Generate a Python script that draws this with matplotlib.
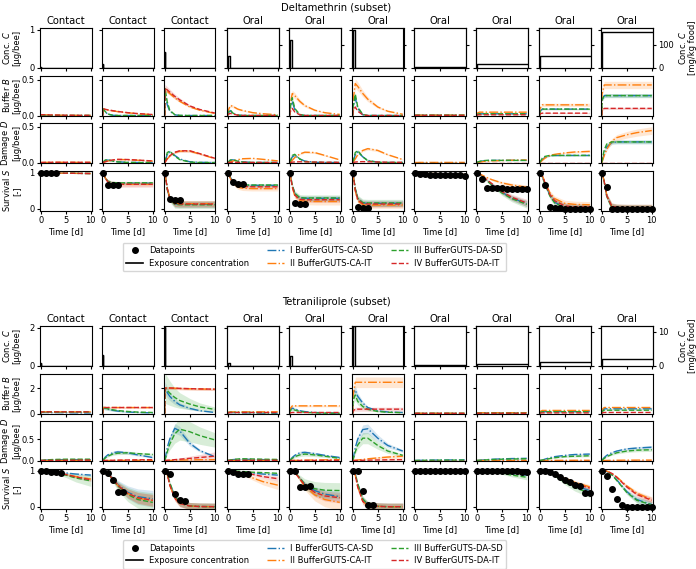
import numpy as np
import matplotlib.pyplot as plt
from matplotlib.lines import Line2D

# -----------------------------
# Data
# -----------------------------
# model curves are given at these times [d]
T = [0, 0.05, 0.5, 1, 2, 3, 5, 7, 10]

ROUTES = ["Contact", "Contact", "Contact", "Oral", "Oral", "Oral", "Oral", "Oral", "Oral", "Oral"]
MODELS = ["I BufferGUTS-CA-SD", "II BufferGUTS-CA-IT", "III BufferGUTS-DA-SD", "IV BufferGUTS-DA-IT"]
COLORS = ["#1f77b4", "#ff7f0e", "#2ca02c", "#d62728"]
STYLES = ["-.", "-.", "--", "--"]

# exposure: acute doses [ug/bee] (panels 1-6), chronic food conc. [mg/kg food] (panels 7-10)
DEL_DOSE = [0.01, 0.10, 0.41, 0.31, 0.73, 1.00]
DEL_FOOD = [1.5, 17.6, 53, 158]
TET_DOSE = [0.14, 0.55, 2.05, 0.14, 0.50, 2.10]
TET_FOOD = [0.1, 0.35, 0.9, 2.0]

# ---------- Deltamethrin ----------
DEL_B_I = [
    [0, 0.005, 0.003, 0.001, 0, 0, 0, 0, 0],
    [0, 0.09, 0.05, 0.02, 0.003, 0, 0, 0, 0],
    [0, 0.30, 0.15, 0.06, 0.01, 0, 0, 0, 0],
    [0, 0.03, 0.07, 0.03, 0.005, 0, 0, 0, 0],
    [0, 0.08, 0.20, 0.08, 0.01, 0, 0, 0, 0],
    [0, 0.10, 0.25, 0.10, 0.01, 0, 0, 0, 0],
    [0, 0.002, 0.004, 0.004, 0.004, 0.004, 0.004, 0.004, 0.004],
    [0, 0.015, 0.024, 0.024, 0.024, 0.024, 0.024, 0.024, 0.024],
    [0, 0.06, 0.09, 0.09, 0.09, 0.09, 0.09, 0.09, 0.09],
    [0, 0.22, 0.28, 0.28, 0.28, 0.28, 0.28, 0.28, 0.28],
]
DEL_B_II = [
    [0, 0.01, 0.01, 0.009, 0.007, 0.005, 0.003, 0.002, 0.001],
    [0, 0.094, 0.085, 0.078, 0.066, 0.055, 0.038, 0.026, 0.012],
    [0, 0.37, 0.34, 0.31, 0.25, 0.20, 0.12, 0.075, 0.03],
    [0, 0.06, 0.14, 0.13, 0.09, 0.07, 0.04, 0.025, 0.01],
    [0, 0.15, 0.31, 0.28, 0.20, 0.14, 0.075, 0.04, 0.015],
    [0, 0.20, 0.45, 0.41, 0.31, 0.23, 0.12, 0.06, 0.018],
    [0, 0.003, 0.005, 0.005, 0.005, 0.005, 0.005, 0.005, 0.005],
    [0, 0.03, 0.047, 0.047, 0.047, 0.047, 0.047, 0.047, 0.047],
    [0, 0.10, 0.15, 0.15, 0.15, 0.15, 0.15, 0.15, 0.15],
    [0, 0.30, 0.43, 0.43, 0.43, 0.43, 0.43, 0.43, 0.43],
]
DEL_B_III = [
    [0, 0.008, 0.005, 0.002, 0, 0, 0, 0, 0],
    [0, 0.10, 0.055, 0.022, 0.003, 0, 0, 0, 0],
    [0, 0.38, 0.19, 0.075, 0.012, 0.002, 0, 0, 0],
    [0, 0.04, 0.08, 0.035, 0.005, 0, 0, 0, 0],
    [0, 0.10, 0.25, 0.10, 0.015, 0, 0, 0, 0],
    [0, 0.12, 0.30, 0.12, 0.015, 0, 0, 0, 0],
    [0, 0.002, 0.004, 0.004, 0.004, 0.004, 0.004, 0.004, 0.004],
    [0, 0.015, 0.024, 0.024, 0.024, 0.024, 0.024, 0.024, 0.024],
    [0, 0.06, 0.09, 0.09, 0.09, 0.09, 0.09, 0.09, 0.09],
    [0, 0.22, 0.28, 0.28, 0.28, 0.28, 0.28, 0.28, 0.28],
]
DEL_B_IV = [
    [0, 0.012, 0.011, 0.01, 0.008, 0.006, 0.004, 0.002, 0.001],
    [0, 0.097, 0.088, 0.080, 0.068, 0.057, 0.040, 0.027, 0.013],
    [0, 0.39, 0.36, 0.33, 0.27, 0.22, 0.135, 0.085, 0.035],
    [0, 0.015, 0.03, 0.02, 0.005, 0.001, 0, 0, 0],
    [0, 0.05, 0.10, 0.05, 0.01, 0, 0, 0, 0],
    [0, 0.06, 0.12, 0.06, 0.01, 0, 0, 0, 0],
    [0, 0.001, 0.002, 0.002, 0.002, 0.002, 0.002, 0.002, 0.002],
    [0, 0.007, 0.01, 0.01, 0.01, 0.01, 0.01, 0.01, 0.01],
    [0, 0.025, 0.033, 0.033, 0.033, 0.033, 0.033, 0.033, 0.033],
    [0, 0.08, 0.10, 0.10, 0.10, 0.10, 0.10, 0.10, 0.10],
]
DEL_D_I = [
    [0, 0, 0, 0, 0, 0, 0, 0, 0],
    [0, 0.002, 0.030, 0.035, 0.020, 0.010, 0.002, 0, 0],
    [0, 0.005, 0.12, 0.15, 0.10, 0.05, 0.01, 0.002, 0],
    [0, 0.001, 0.030, 0.038, 0.020, 0.008, 0.001, 0, 0],
    [0, 0.003, 0.08, 0.10, 0.05, 0.02, 0.003, 0, 0],
    [0, 0.004, 0.11, 0.15, 0.08, 0.03, 0.004, 0, 0],
    [0, 0, 0, 0, 0, 0, 0, 0, 0],
    [0, 0.001, 0.010, 0.020, 0.028, 0.030, 0.030, 0.030, 0.030],
    [0, 0.003, 0.04, 0.07, 0.095, 0.10, 0.10, 0.10, 0.10],
    [0, 0.01, 0.13, 0.22, 0.28, 0.29, 0.29, 0.29, 0.29],
]
DEL_D_II = [
    [0, 0, 0.001, 0.002, 0.003, 0.003, 0.003, 0.002, 0.002],
    [0, 0, 0.010, 0.020, 0.035, 0.042, 0.040, 0.032, 0.020],
    [0, 0.003, 0.05, 0.09, 0.14, 0.16, 0.16, 0.12, 0.055],
    [0, 0, 0.01, 0.02, 0.04, 0.053, 0.058, 0.045, 0.023],
    [0, 0.001, 0.03, 0.07, 0.12, 0.145, 0.14, 0.10, 0.037],
    [0, 0.001, 0.05, 0.11, 0.17, 0.195, 0.17, 0.11, 0.042],
    [0, 0, 0, 0.001, 0.001, 0.001, 0.001, 0.001, 0.001],
    [0, 0, 0.005, 0.010, 0.018, 0.023, 0.028, 0.032, 0.035],
    [0, 0.001, 0.03, 0.06, 0.10, 0.115, 0.135, 0.148, 0.157],
    [0, 0.005, 0.10, 0.185, 0.30, 0.35, 0.39, 0.42, 0.45],
]
DEL_D_III = [
    [0, 0, 0, 0, 0, 0, 0, 0, 0],
    [0, 0.003, 0.035, 0.040, 0.020, 0.008, 0.001, 0, 0],
    [0, 0.01, 0.14, 0.16, 0.09, 0.04, 0.006, 0, 0],
    [0, 0.002, 0.035, 0.040, 0.018, 0.006, 0, 0, 0],
    [0, 0.005, 0.10, 0.115, 0.05, 0.015, 0.002, 0, 0],
    [0, 0.006, 0.14, 0.167, 0.08, 0.025, 0.003, 0, 0],
    [0, 0, 0, 0, 0, 0, 0, 0, 0],
    [0, 0.002, 0.015, 0.024, 0.030, 0.030, 0.030, 0.030, 0.030],
    [0, 0.005, 0.06, 0.085, 0.10, 0.10, 0.10, 0.10, 0.10],
    [0, 0.02, 0.18, 0.26, 0.29, 0.29, 0.29, 0.29, 0.29],
]
DEL_D_IV = [
    [0, 0, 0.001, 0.002, 0.003, 0.003, 0.003, 0.003, 0.002],
    [0, 0, 0.012, 0.022, 0.037, 0.044, 0.042, 0.034, 0.022],
    [0, 0.003, 0.055, 0.095, 0.145, 0.165, 0.165, 0.125, 0.06],
    [0, 0, 0.002, 0.003, 0.003, 0.002, 0.001, 0, 0],
    [0, 0, 0.005, 0.008, 0.010, 0.009, 0.006, 0.004, 0.002],
    [0, 0, 0.006, 0.010, 0.012, 0.010, 0.007, 0.004, 0.002],
    [0, 0, 0, 0, 0, 0, 0, 0, 0],
    [0, 0, 0, 0, 0, 0, 0, 0, 0],
    [0, 0, 0, 0, 0, 0, 0, 0, 0],
    [0, 0, 0, 0, 0, 0, 0, 0, 0],
]
DEL_S_I = [
    [1, 1, 1, 1, 0.995, 0.99, 0.99, 0.985, 0.98],
    [1, 0.99, 0.85, 0.76, 0.72, 0.71, 0.71, 0.71, 0.71],
    [1, 0.99, 0.55, 0.28, 0.13, 0.12, 0.12, 0.12, 0.12],
    [1, 1, 0.88, 0.76, 0.67, 0.65, 0.65, 0.65, 0.65],
    [1, 0.99, 0.65, 0.42, 0.30, 0.29, 0.29, 0.29, 0.29],
    [1, 0.99, 0.55, 0.28, 0.16, 0.15, 0.15, 0.15, 0.15],
    [1, 1, 1, 0.995, 0.99, 0.985, 0.97, 0.96, 0.95],
    [1, 1, 0.97, 0.92, 0.80, 0.68, 0.46, 0.30, 0.14],
    [1, 1, 0.90, 0.72, 0.38, 0.18, 0.04, 0.02, 0.02],
    [1, 1, 0.75, 0.35, 0.05, 0.01, 0, 0, 0],
]
DEL_S_II = [
    [1, 1, 1, 1, 0.995, 0.99, 0.99, 0.985, 0.98],
    [1, 0.99, 0.86, 0.75, 0.69, 0.68, 0.68, 0.68, 0.68],
    [1, 0.99, 0.57, 0.30, 0.15, 0.14, 0.14, 0.14, 0.14],
    [1, 1, 0.85, 0.72, 0.60, 0.57, 0.56, 0.56, 0.56],
    [1, 0.99, 0.60, 0.36, 0.23, 0.21, 0.20, 0.20, 0.20],
    [1, 0.99, 0.50, 0.22, 0.11, 0.10, 0.10, 0.10, 0.10],
    [1, 1, 1, 0.995, 0.99, 0.985, 0.975, 0.965, 0.955],
    [1, 1, 0.98, 0.94, 0.87, 0.81, 0.72, 0.66, 0.60],
    [1, 1, 0.92, 0.76, 0.45, 0.28, 0.15, 0.12, 0.11],
    [1, 1, 0.76, 0.37, 0.06, 0.02, 0.01, 0.01, 0.01],
]
DEL_S_III = [
    [1, 1, 1, 1, 0.995, 0.99, 0.99, 0.985, 0.98],
    [1, 0.99, 0.86, 0.77, 0.73, 0.72, 0.72, 0.72, 0.72],
    [1, 0.99, 0.54, 0.27, 0.12, 0.11, 0.11, 0.11, 0.11],
    [1, 1, 0.88, 0.77, 0.68, 0.66, 0.66, 0.66, 0.66],
    [1, 0.99, 0.66, 0.43, 0.31, 0.30, 0.30, 0.30, 0.30],
    [1, 0.99, 0.56, 0.29, 0.17, 0.16, 0.16, 0.16, 0.16],
    [1, 1, 1, 0.995, 0.99, 0.98, 0.965, 0.95, 0.94],
    [1, 1, 0.97, 0.91, 0.78, 0.66, 0.44, 0.28, 0.12],
    [1, 1, 0.89, 0.70, 0.36, 0.16, 0.03, 0.01, 0.01],
    [1, 1, 0.74, 0.34, 0.04, 0.01, 0, 0, 0],
]
DEL_S_IV = [
    [1, 1, 1, 1, 0.995, 0.99, 0.99, 0.985, 0.98],
    [1, 0.99, 0.85, 0.75, 0.69, 0.68, 0.68, 0.68, 0.68],
    [1, 0.99, 0.56, 0.29, 0.14, 0.13, 0.13, 0.13, 0.13],
    [1, 1, 0.86, 0.74, 0.64, 0.62, 0.61, 0.61, 0.61],
    [1, 0.99, 0.62, 0.38, 0.26, 0.25, 0.25, 0.25, 0.25],
    [1, 0.99, 0.52, 0.25, 0.14, 0.13, 0.13, 0.13, 0.13],
    [1, 1, 1, 0.99, 0.985, 0.975, 0.96, 0.945, 0.93],
    [1, 1, 0.97, 0.92, 0.81, 0.70, 0.48, 0.32, 0.16],
    [1, 1, 0.91, 0.74, 0.40, 0.22, 0.08, 0.05, 0.05],
    [1, 1, 0.75, 0.36, 0.07, 0.04, 0.03, 0.03, 0.03],
]
# relative half-widths of the uncertainty bands (I, II, III, IV), one per panel
DEL_B_BAND = [
    [0.1, 0.1, 0.1, 0.1, 0.1, 0.1, 0.1, 0.1, 0.1, 0.1],
    [0.1, 0.1, 0.08, 0.15, 0.15, 0.15, 0.1, 0.1, 0.15, 0.12],
    [0.1, 0.1, 0.1, 0.1, 0.1, 0.1, 0.1, 0.1, 0.1, 0.1],
    [0.1, 0.1, 0.12, 0.1, 0.1, 0.1, 0.1, 0.1, 0.2, 0.15],
]
DEL_D_BAND = [
    [0.1, 0.1, 0.1, 0.1, 0.1, 0.1, 0.1, 0.1, 0.1, 0.1],
    [0.1, 0.1, 0.1, 0.1, 0.1, 0.1, 0.1, 0.1, 0.1, 0.12],
    [0.1, 0.1, 0.1, 0.1, 0.1, 0.1, 0.1, 0.1, 0.1, 0.08],
    [0.1, 0.1, 0.1, 0.1, 0.1, 0.1, 0.1, 0.1, 0.1, 0.1],
]
DEL_S_BAND = [
    [0.1, 0.1, 0.1, 0.1, 0.1, 0.1, 0.1, 0.1, 0.1, 0.1],
    [0.15, 0.15, 0.1, 0.15, 0.12, 0.1, 0.2, 0.15, 0.1, 0.1],
    [0.12, 0.12, 0.12, 0.12, 0.12, 0.12, 0.12, 0.12, 0.12, 0.12],
    [0.2, 0.25, 0.1, 0.15, 0.1, 0.1, 0.2, 0.12, 0.1, 0.1],
]
DEL_OBS_T = [
    [0, 1, 2, 3], [0, 1, 2, 3], [0, 1, 2, 3], [0, 1, 2, 3], [0, 1, 2, 3], [0, 1, 2, 3],
    [0, 1, 2, 3, 4, 5, 6, 7, 8, 9, 10], [0, 1, 2, 3, 4, 5, 6, 7, 8, 9, 10],
    [0, 1, 2, 3, 4, 5, 6, 7, 8, 9, 10], [0, 1, 2, 3, 4, 5, 6, 7, 8, 9, 10],
]
DEL_OBS_S = [
    [1, 1, 1, 1],
    [1, 0.66, 0.66, 0.66],
    [1, 0.28, 0.25, 0.25],
    [1, 0.73, 0.68, 0.68],
    [1, 0.15, 0.12, 0.12],
    [1, 0.04, 0.03, 0.03],
    [1, 0.97, 0.96, 0.95, 0.95, 0.94, 0.94, 0.93, 0.93, 0.93, 0.92],
    [1, 0.83, 0.57, 0.57, 0.57, 0.57, 0.56, 0.56, 0.56, 0.55, 0.55],
    [1, 0.67, 0.05, 0.03, 0.01, 0, 0, 0, 0, 0, 0],
    [1, 0.60, 0, 0, 0, 0, 0, 0, 0, 0, 0],
]

# ---------- Tetraniliprole ----------
TET_B_I = [
    [0, 0.08, 0.08, 0.08, 0.07, 0.07, 0.06, 0.05, 0.04],
    [0, 0.47, 0.40, 0.34, 0.25, 0.19, 0.12, 0.08, 0.05],
    [0, 2.00, 1.65, 1.35, 0.95, 0.68, 0.40, 0.22, 0.08],
    [0, 0.06, 0.07, 0.07, 0.06, 0.05, 0.04, 0.03, 0.02],
    [0, 0.35, 0.42, 0.36, 0.22, 0.15, 0.08, 0.05, 0.03],
    [0, 1.60, 1.85, 1.35, 0.82, 0.47, 0.21, 0.12, 0.08],
    [0, 0.005, 0.01, 0.01, 0.01, 0.01, 0.01, 0.01, 0.01],
    [0, 0.02, 0.04, 0.04, 0.04, 0.04, 0.04, 0.04, 0.04],
    [0, 0.08, 0.15, 0.15, 0.15, 0.15, 0.15, 0.15, 0.15],
    [0, 0.20, 0.37, 0.37, 0.37, 0.37, 0.37, 0.37, 0.37],
]
TET_B_II = [
    [0, 0.13, 0.13, 0.13, 0.13, 0.13, 0.13, 0.13, 0.13],
    [0, 0.47, 0.47, 0.47, 0.47, 0.47, 0.47, 0.47, 0.47],
    [0, 2.00, 2.00, 2.00, 1.98, 1.96, 1.94, 1.92, 1.90],
    [0, 0.09, 0.13, 0.13, 0.13, 0.13, 0.13, 0.13, 0.13],
    [0, 0.35, 0.60, 0.60, 0.60, 0.60, 0.60, 0.60, 0.60],
    [0, 1.40, 2.45, 2.45, 2.45, 2.45, 2.45, 2.45, 2.45],
    [0, 0.01, 0.02, 0.02, 0.02, 0.02, 0.02, 0.02, 0.02],
    [0, 0.04, 0.06, 0.06, 0.06, 0.06, 0.06, 0.06, 0.06],
    [0, 0.15, 0.24, 0.24, 0.24, 0.24, 0.24, 0.24, 0.24],
    [0, 0.30, 0.47, 0.47, 0.47, 0.47, 0.47, 0.47, 0.47],
]
TET_B_III = [
    [0, 0.12, 0.12, 0.12, 0.12, 0.12, 0.12, 0.12, 0.12],
    [0, 0.47, 0.42, 0.37, 0.29, 0.23, 0.16, 0.11, 0.08],
    [0, 2.00, 1.80, 1.60, 1.26, 1.02, 0.74, 0.52, 0.32],
    [0, 0.08, 0.09, 0.09, 0.085, 0.08, 0.075, 0.07, 0.06],
    [0, 0.25, 0.33, 0.27, 0.16, 0.10, 0.05, 0.03, 0.02],
    [0, 1.00, 1.45, 0.95, 0.55, 0.33, 0.16, 0.10, 0.06],
    [0, 0.005, 0.01, 0.01, 0.01, 0.01, 0.01, 0.01, 0.01],
    [0, 0.02, 0.03, 0.03, 0.03, 0.03, 0.03, 0.03, 0.03],
    [0, 0.08, 0.14, 0.14, 0.14, 0.14, 0.14, 0.14, 0.14],
    [0, 0.15, 0.26, 0.26, 0.26, 0.26, 0.26, 0.26, 0.26],
]
TET_B_IV = [
    [0, 0.13, 0.13, 0.13, 0.13, 0.13, 0.13, 0.13, 0.13],
    [0, 0.47, 0.47, 0.47, 0.47, 0.47, 0.47, 0.47, 0.47],
    [0, 2.00, 2.00, 2.00, 1.99, 1.97, 1.95, 1.93, 1.91],
    [0, 0.05, 0.08, 0.08, 0.08, 0.08, 0.08, 0.08, 0.08],
    [0, 0.05, 0.08, 0.08, 0.08, 0.08, 0.08, 0.08, 0.08],
    [0, 0.20, 0.34, 0.34, 0.34, 0.34, 0.34, 0.34, 0.34],
    [0, 0.005, 0.01, 0.01, 0.01, 0.01, 0.01, 0.01, 0.01],
    [0, 0.01, 0.02, 0.02, 0.02, 0.02, 0.02, 0.02, 0.02],
    [0, 0.03, 0.05, 0.05, 0.05, 0.05, 0.05, 0.05, 0.05],
    [0, 0.05, 0.08, 0.08, 0.08, 0.08, 0.08, 0.08, 0.08],
]
TET_D_I = [
    [0, 0, 0.005, 0.010, 0.015, 0.018, 0.020, 0.020, 0.020],
    [0, 0.005, 0.08, 0.13, 0.18, 0.20, 0.18, 0.13, 0.07],
    [0, 0.02, 0.30, 0.50, 0.75, 0.69, 0.40, 0.23, 0.09],
    [0, 0, 0.010, 0.020, 0.030, 0.030, 0.025, 0.020, 0.015],
    [0, 0.005, 0.07, 0.12, 0.18, 0.19, 0.16, 0.12, 0.07],
    [0, 0.02, 0.30, 0.50, 0.72, 0.74, 0.52, 0.35, 0.22],
    [0, 0, 0.002, 0.004, 0.006, 0.008, 0.010, 0.012, 0.013],
    [0, 0, 0.005, 0.010, 0.020, 0.028, 0.038, 0.045, 0.050],
    [0, 0, 0.010, 0.030, 0.065, 0.090, 0.120, 0.140, 0.150],
    [0, 0.005, 0.07, 0.12, 0.18, 0.22, 0.27, 0.29, 0.31],
]
TET_D_II = [
    [0, 0, 0, 0, 0.001, 0.001, 0.002, 0.002, 0.002],
    [0, 0, 0, 0.001, 0.002, 0.003, 0.004, 0.005, 0.005],
    [0, 0, 0.001, 0.003, 0.006, 0.010, 0.015, 0.018, 0.020],
    [0, 0, 0, 0, 0.001, 0.001, 0.002, 0.002, 0.002],
    [0, 0, 0.001, 0.002, 0.005, 0.008, 0.012, 0.015, 0.020],
    [0, 0, 0.005, 0.012, 0.025, 0.040, 0.060, 0.080, 0.100],
    [0, 0, 0, 0, 0, 0, 0, 0, 0],
    [0, 0, 0, 0, 0.001, 0.001, 0.002, 0.002, 0.003],
    [0, 0, 0, 0.001, 0.002, 0.003, 0.004, 0.005, 0.005],
    [0, 0, 0.001, 0.002, 0.004, 0.006, 0.008, 0.009, 0.010],
]
TET_D_III = [
    [0, 0, 0.005, 0.012, 0.020, 0.025, 0.030, 0.030, 0.030],
    [0, 0.003, 0.06, 0.10, 0.15, 0.17, 0.18, 0.16, 0.14],
    [0, 0.01, 0.20, 0.38, 0.62, 0.73, 0.67, 0.58, 0.48],
    [0, 0, 0.010, 0.020, 0.035, 0.040, 0.035, 0.030, 0.025],
    [0, 0.003, 0.05, 0.09, 0.13, 0.15, 0.13, 0.10, 0.05],
    [0, 0.01, 0.20, 0.36, 0.52, 0.52, 0.35, 0.22, 0.12],
    [0, 0, 0.002, 0.003, 0.005, 0.006, 0.008, 0.009, 0.010],
    [0, 0, 0.004, 0.008, 0.015, 0.022, 0.030, 0.035, 0.040],
    [0, 0, 0.008, 0.020, 0.045, 0.065, 0.090, 0.100, 0.110],
    [0, 0.004, 0.05, 0.09, 0.14, 0.18, 0.22, 0.24, 0.25],
]
TET_D_IV = [
    [0, 0, 0, 0.001, 0.002, 0.003, 0.005, 0.007, 0.010],
    [0, 0, 0.001, 0.002, 0.005, 0.008, 0.012, 0.016, 0.020],
    [0, 0, 0.005, 0.010, 0.020, 0.030, 0.050, 0.070, 0.100],
    [0, 0, 0, 0.001, 0.002, 0.003, 0.004, 0.005, 0.005],
    [0, 0, 0, 0.001, 0.001, 0.002, 0.002, 0.003, 0.003],
    [0, 0, 0.001, 0.002, 0.005, 0.008, 0.012, 0.016, 0.020],
    [0, 0, 0, 0, 0, 0, 0, 0, 0],
    [0, 0, 0, 0, 0, 0, 0, 0, 0],
    [0, 0, 0, 0, 0, 0, 0, 0, 0],
    [0, 0, 0, 0, 0, 0, 0, 0, 0],
]
TET_S_I = [
    [1, 1, 1, 0.995, 0.98, 0.97, 0.94, 0.91, 0.88],
    [1, 1, 0.98, 0.93, 0.78, 0.62, 0.40, 0.28, 0.22],
    [1, 1, 0.92, 0.65, 0.27, 0.10, 0.02, 0.005, 0],
    [1, 1, 1, 0.995, 0.98, 0.96, 0.94, 0.91, 0.88],
    [1, 1, 0.99, 0.96, 0.80, 0.62, 0.45, 0.35, 0.28],
    [1, 1, 0.92, 0.62, 0.20, 0.05, 0.01, 0, 0],
    [1, 1, 1, 1, 0.995, 0.99, 0.985, 0.98, 0.97],
    [1, 1, 1, 1, 0.99, 0.98, 0.95, 0.92, 0.88],
    [1, 1, 1, 0.99, 0.95, 0.88, 0.72, 0.58, 0.45],
    [1, 1, 1, 0.98, 0.90, 0.75, 0.42, 0.20, 0.06],
]
TET_S_II = [
    [1, 1, 1, 0.99, 0.97, 0.95, 0.90, 0.84, 0.77],
    [1, 1, 0.98, 0.93, 0.77, 0.60, 0.37, 0.24, 0.17],
    [1, 1, 0.90, 0.60, 0.24, 0.09, 0.02, 0.005, 0],
    [1, 1, 1, 0.99, 0.95, 0.90, 0.80, 0.70, 0.60],
    [1, 1, 0.99, 0.95, 0.77, 0.57, 0.33, 0.20, 0.12],
    [1, 1, 0.88, 0.55, 0.15, 0.04, 0.01, 0, 0],
    [1, 1, 1, 1, 0.995, 0.99, 0.98, 0.97, 0.96],
    [1, 1, 1, 1, 0.995, 0.985, 0.96, 0.94, 0.90],
    [1, 1, 1, 0.995, 0.97, 0.93, 0.80, 0.68, 0.55],
    [1, 1, 1, 0.99, 0.93, 0.83, 0.58, 0.38, 0.20],
]
TET_S_III = [
    [1, 1, 1, 0.99, 0.97, 0.94, 0.88, 0.80, 0.72],
    [1, 1, 0.98, 0.92, 0.76, 0.58, 0.34, 0.20, 0.12],
    [1, 1, 0.93, 0.67, 0.29, 0.11, 0.02, 0.005, 0],
    [1, 1, 1, 0.998, 0.99, 0.98, 0.96, 0.95, 0.93],
    [1, 1, 0.99, 0.96, 0.80, 0.63, 0.50, 0.46, 0.45],
    [1, 1, 0.93, 0.64, 0.22, 0.06, 0.01, 0, 0],
    [1, 1, 1, 1, 0.995, 0.99, 0.985, 0.98, 0.97],
    [1, 1, 1, 1, 0.99, 0.97, 0.93, 0.88, 0.82],
    [1, 1, 1, 0.99, 0.94, 0.86, 0.68, 0.53, 0.38],
    [1, 1, 1, 0.98, 0.89, 0.73, 0.40, 0.18, 0.05],
]
TET_S_IV = [
    [1, 1, 1, 0.99, 0.97, 0.95, 0.90, 0.83, 0.75],
    [1, 1, 0.98, 0.93, 0.77, 0.60, 0.37, 0.25, 0.18],
    [1, 1, 0.90, 0.60, 0.24, 0.09, 0.02, 0.005, 0],
    [1, 1, 1, 0.99, 0.97, 0.95, 0.90, 0.84, 0.78],
    [1, 1, 0.99, 0.95, 0.78, 0.60, 0.40, 0.30, 0.25],
    [1, 1, 0.88, 0.55, 0.15, 0.04, 0.01, 0, 0],
    [1, 1, 1, 1, 0.995, 0.99, 0.98, 0.97, 0.96],
    [1, 1, 1, 1, 0.995, 0.985, 0.96, 0.94, 0.90],
    [1, 1, 1, 0.995, 0.97, 0.92, 0.77, 0.64, 0.52],
    [1, 1, 1, 0.99, 0.93, 0.82, 0.55, 0.34, 0.18],
]
TET_B_BAND = [
    [0.1, 0.3, 0.25, 0.1, 0.25, 0.2, 0.1, 0.1, 0.15, 0.1],
    [0.1, 0.1, 0.05, 0.1, 0.12, 0.17, 0.1, 0.1, 0.1, 0.1],
    [0.1, 0.3, 0.6, 0.1, 0.3, 0.3, 0.1, 0.1, 0.15, 0.15],
    [0.1, 0.1, 0.05, 0.1, 0.3, 0.45, 0.1, 0.1, 0.2, 0.2],
]
TET_D_BAND = [
    [0.2, 0.2, 0.15, 0.2, 0.2, 0.15, 0.2, 0.2, 0.15, 0.12],
    [0.5, 0.5, 0.5, 0.5, 0.5, 0.5, 0.5, 0.5, 0.5, 0.5],
    [0.3, 0.2, 0.35, 0.3, 0.3, 0.25, 0.3, 0.3, 0.2, 0.15],
    [0.5, 0.5, 1.0, 0.5, 0.5, 0.5, 0.5, 0.5, 0.5, 0.5],
]
TET_S_BAND = [
    [0.3, 0.3, 0.1, 0.2, 0.2, 0.1, 0.2, 0.2, 0.15, 0.1],
    [0.2, 0.2, 0.1, 0.3, 0.25, 0.1, 0.2, 0.2, 0.15, 0.1],
    [0.55, 0.3, 0.1, 0.3, 0.4, 0.1, 0.3, 0.4, 0.2, 0.1],
    [0.2, 0.2, 0.1, 0.3, 0.2, 0.1, 0.2, 0.2, 0.15, 0.1],
]
TET_OBS_T = [
    [0, 1, 2, 3, 4], [0, 1, 2, 3, 4], [0, 1, 2, 3, 4], [0, 1, 2, 3, 4], [0, 1, 2, 3, 4], [0, 1, 2, 3, 4],
    [0, 1, 2, 3, 4, 5, 6, 7, 8, 9, 10], [0, 1, 2, 3, 4, 5, 6, 7, 8, 9, 10],
    [0, 1, 2, 3, 4, 5, 6, 7, 8, 9, 10], [0, 1, 2, 3, 4, 5, 6, 7, 8, 9, 10],
]
TET_OBS_S = [
    [1, 1, 0.97, 0.97, 0.93],
    [1, 0.95, 0.73, 0.40, 0.40],
    [1, 0.90, 0.35, 0.18, 0.15],
    [1, 0.98, 0.90, 0.90, 0.90],
    [1, 1, 0.55, 0.55, 0.57],
    [1, 1, 0.44, 0.05, 0.05],
    [1, 1, 1, 1, 1, 1, 1, 1, 1, 1, 1],
    [1, 1, 1, 1, 1, 1, 1, 0.99, 0.99, 0.98, 0.98],
    [1, 1, 0.97, 0.90, 0.83, 0.75, 0.68, 0.60, 0.57, 0.38, 0.38],
    [1, 0.85, 0.50, 0.22, 0.05, 0, 0, 0, 0, 0, 0],
]

# -----------------------------
# Layout (pixels)
# -----------------------------
W, H = 696, 569
COL_LEFT = [40, 102, 164, 227, 289, 352, 414, 476, 539, 601]
AX_W, AX_H = 51.5, 39.5
ROW_OFFSETS = [0, 48, 95, 143]
FS = 6.0

plt.rcParams["font.family"] = "DejaVu Sans"
plt.rcParams["xtick.labelsize"] = FS
plt.rcParams["ytick.labelsize"] = FS
plt.rcParams["axes.labelsize"] = FS

fig = plt.figure(figsize=(W / 100, H / 100), dpi=100)


def px_rect(left, top):
    return [left / W, 1 - (top + AX_H) / H, AX_W / W, AX_H / H]


def style_axis(ax):
    ax.set_xlim(-0.15, 10.15)
    ax.set_xticks([0, 5, 10])
    ax.tick_params(length=2.5, width=0.8, pad=1.5)


def draw_block(top, title, title_y, legend_y, dose, food, rows, bands, obs_t, obs_s,
               ylims, yticks, food_lim, food_ticks):
    fig.text(336 / W, 1 - title_y / H, title, ha="center", va="center", fontsize=7.2)
    labels = ["Conc. $C$\n[µg/bee]", "Buffer $B$\n[µg/bee]",
              "Damage $D$\n[µg/bee]", "Survival $S$\n[-]"]
    for r in range(4):
        for c in range(10):
            ax = fig.add_axes(px_rect(COL_LEFT[c], top + ROW_OFFSETS[r]))
            style_axis(ax)
            ax.set_ylim(*ylims[r])
            ax.set_yticks(yticks[r])
            if c == 0:
                ax.set_ylabel(labels[r], fontsize=FS, linespacing=1.1)
                ax.yaxis.set_label_coords(-0.36, 0.5)
            else:
                ax.tick_params(labelleft=False)
            if r < 3:
                ax.tick_params(labelbottom=False)
            else:
                ax.set_xlabel("Time [d]", fontsize=FS, labelpad=1.5)

            if r == 0:
                ax.set_title(ROUTES[c], fontsize=7.2, pad=3)
                if c < 3:
                    d = dose[c]
                    ax.plot([0, 0, 0.05, 0.05, 10], [0, d, d, 0, 0], color="black", lw=1.0)
                elif c < 6:
                    d = dose[c]
                    ax.plot([0, 0, 0.4, 0.4, 10], [0, d, d, 0, 0], color="black", lw=1.0)
                if c >= 3:
                    ax2 = ax.twinx()
                    ax2.set_ylim(*food_lim)
                    ax2.set_yticks(food_ticks)
                    ax2.tick_params(length=2.5, width=0.8, pad=1.5)
                    if c == 9:
                        ax2.set_ylabel("Conc. $C$\n[mg/kg food]", fontsize=FS, linespacing=1.1)
                        ax2.yaxis.set_label_coords(1.47, 0.5)
                    else:
                        ax2.tick_params(labelright=False)
                    if c >= 6:
                        f = food[c - 6]
                        ax2.plot([0, 0, 10], [0, f, f], color="black", lw=1.0)
                continue

            curves = rows[r - 1]
            widths = bands[r - 1]
            for m in range(4):
                v = np.array(curves[m][c], dtype=float)
                w = widths[m][c]
                if r == 3:
                    lo = v - w * (1 - v)
                    hi = np.minimum(v + w * (1 - v), 1)
                else:
                    lo = v * (1 - w)
                    hi = v * (1 + w)
                ax.fill_between(T, lo, hi, color=COLORS[m], alpha=0.18, lw=0)
            for m in range(4):
                ax.plot(T, curves[m][c], color=COLORS[m], ls=STYLES[m], lw=1.0)
            if r == 3:
                ax.plot(obs_t[c], obs_s[c], "o", color="black", ms=4, zorder=5, clip_on=False)

    handles = [
        Line2D([], [], marker="o", ls="none", color="black", ms=4),
        Line2D([], [], color="black", lw=1.2),
    ] + [Line2D([], [], color=COLORS[m], ls=STYLES[m], lw=1.0) for m in range(4)]
    names = ["Datapoints", "Exposure concentration"] + MODELS
    fig.legend(handles, names, loc="center", bbox_to_anchor=(314.5 / W, 1 - legend_y / H),
               ncol=3, fontsize=FS, frameon=True, borderpad=0.4, handlelength=2.1,
               handletextpad=0.7, columnspacing=2.1, labelspacing=0.45)


draw_block(
    28, "Deltamethrin (subset)", 7, 257,
    DEL_DOSE, DEL_FOOD,
    [[DEL_B_I, DEL_B_II, DEL_B_III, DEL_B_IV],
     [DEL_D_I, DEL_D_II, DEL_D_III, DEL_D_IV],
     [DEL_S_I, DEL_S_II, DEL_S_III, DEL_S_IV]],
    [DEL_B_BAND, DEL_D_BAND, DEL_S_BAND],
    DEL_OBS_T, DEL_OBS_S,
    [(0, 1.05), (0, 0.556), (0, 0.556), (-0.05, 1.05)],
    [[0, 1], [0.0, 0.5], [0.0, 0.5], [0, 1]],
    (0, 175), [0, 100],
)
draw_block(
    326, "Tetraniliprole (subset)", 302, 554.5,
    TET_DOSE, TET_FOOD,
    [[TET_B_I, TET_B_II, TET_B_III, TET_B_IV],
     [TET_D_I, TET_D_II, TET_D_III, TET_D_IV],
     [TET_S_I, TET_S_II, TET_S_III, TET_S_IV]],
    [TET_B_BAND, TET_D_BAND, TET_S_BAND],
    TET_OBS_T, TET_OBS_S,
    [(0, 2.1), (0, 3.1), (0, 0.92), (-0.05, 1.05)],
    [[0, 2], [0, 2], [0.0, 0.5], [0, 1]],
    (0, 11.7), [0, 10],
)

fig.savefig("out.png", dpi=100)
